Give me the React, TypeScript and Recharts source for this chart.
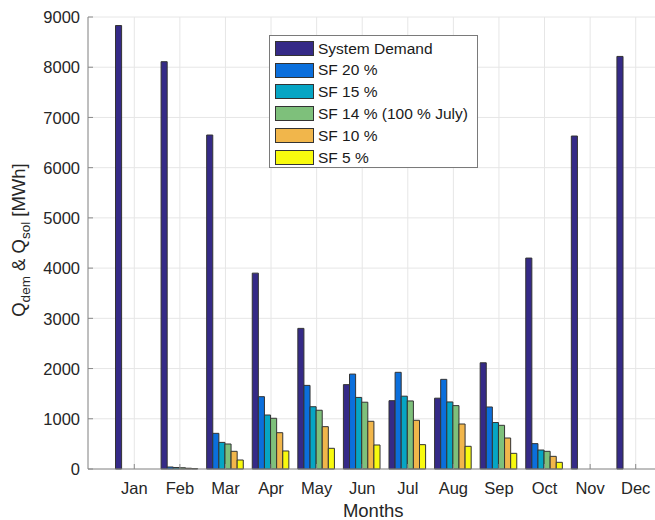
import React from 'react';
import { BarChart, Bar, XAxis, YAxis, CartesianGrid, Legend, Label } from 'recharts';

const months = ['Jan', 'Feb', 'Mar', 'Apr', 'May', 'Jun', 'Jul', 'Aug', 'Sep', 'Oct', 'Nov', 'Dec'];
const systemDemand = [8830, 8110, 6650, 3900, 2800, 1680, 1360, 1410, 2115, 4200, 6630, 8215];
const sf20 = [0, 40, 710, 1440, 1665, 1890, 1925, 1785, 1235, 505, 0, 0];
const sf15 = [0, 30, 530, 1075, 1240, 1425, 1450, 1335, 925, 378, 0, 0];
const sf14 = [0, 25, 498, 1010, 1170, 1330, 1355, 1262, 870, 352, 0, 0];
const sf10 = [0, 15, 352, 723, 843, 950, 970, 896, 617, 252, 0, 0];
const sf5 = [0, 8, 179, 359, 412, 478, 485, 452, 312, 133, 0, 0];
const yTicks = [0, 1000, 2000, 3000, 4000, 5000, 6000, 7000, 8000, 9000];

const seriesNames = ['System Demand', 'SF 20 %', 'SF 15 %', 'SF 14 % (100 % July)', 'SF 10 %', 'SF 5 %'];
const seriesColors = ['#352a87', '#0b6fdc', '#06a5c4', '#7ec07b', '#f1b64b', '#f8fa0e'];
const seriesValues = [systemDemand, sf20, sf15, sf14, sf10, sf5];
const seriesKeys = ['s0', 's1', 's2', 's3', 's4', 's5'];

const data = months.map((m, i) => {
  const row: Record<string, any> = { month: m };
  seriesValues.forEach((vals, k) => {
    row[seriesKeys[k]] = vals[i];
  });
  return row;
});

const FONT = '"Liberation Sans", Arial, Helvetica, sans-serif';
const TEXT = '#262626';
const AXIS = '#8a8a8a';
const TICK_FS = 16.5;

const XTick = (props: any) => {
  const { x, y, payload } = props;
  return (
    <g>
      <line x1={x} x2={x} y1={y - 13} y2={y - 18} stroke={AXIS} strokeWidth={1} />
      <text x={x} y={y} dy="0.71em" textAnchor="middle" fontSize={TICK_FS} fontFamily={FONT} fill={TEXT}>
        {payload.value}
      </text>
    </g>
  );
};

const YTick = (props: any) => {
  const { x, y, payload } = props;
  return (
    <g>
      <line x1={x + 8} x2={x + 13} y1={y} y2={y} stroke={AXIS} strokeWidth={1} />
      <text x={x} y={y} dy="0.38em" textAnchor="end" fontSize={TICK_FS} fontFamily={FONT} fill={TEXT}>
        {payload.value}
      </text>
    </g>
  );
};

const TopTick = (props: any) => {
  const { x, y } = props;
  return <line x1={x} x2={x} y1={y} y2={y + 5} stroke={AXIS} strokeWidth={1} />;
};

const RightTick = (props: any) => {
  const { x, y } = props;
  return <line x1={x - 5} x2={x} y1={y} y2={y} stroke={AXIS} strokeWidth={1} />;
};

const MonthsLabel = (props: any) => {
  const vb = props.viewBox || { x: 80, y: 461, width: 570, height: 30 };
  return (
    <text x={vb.x + vb.width / 2} y={vb.y + 47.5} textAnchor="middle" fontSize={18.5} fontFamily={FONT} fill={TEXT}>
      Months
    </text>
  );
};

const YLabel = (props: any) => {
  const vb = props.viewBox || { x: 0, y: 9, width: 80, height: 452 };
  const cx = vb.x + 17;
  const cy = vb.y + vb.height / 2 - 3;
  return (
    <text
      x={cx}
      y={cy}
      transform={`rotate(-90 ${cx} ${cy})`}
      textAnchor="middle"
      fontSize={18.5}
      fontFamily={FONT}
      fill={TEXT}
    >
      <tspan>Q</tspan>
      <tspan dy={5} fontSize={13.5}>dem</tspan>
      <tspan dy={-5}>{' & Q'}</tspan>
      <tspan dy={5} fontSize={13.5}>sol</tspan>
      <tspan dy={-5}>{' [MWh]'}</tspan>
    </text>
  );
};

const LegendBox = () => (
  <div
    style={{
      boxSizing: 'border-box',
      width: 209,
      height: 133,
      border: '1px solid #7a7a7a',
      background: '#ffffff',
      padding: '1.5px 0 0 5px',
      fontFamily: FONT,
    }}
  >
    {seriesNames.map((name, i) => (
      <div key={name} style={{ height: 21.8, display: 'flex', alignItems: 'center' }}>
        <div
          style={{
            boxSizing: 'border-box',
            width: 39,
            height: 15,
            background: seriesColors[i],
            border: '1px solid #333333',
            marginRight: 4,
            flex: 'none',
          }}
        />
        <span style={{ fontSize: 15.5, lineHeight: 1, color: '#1a1a1a', whiteSpace: 'nowrap' }}>{name}</span>
      </div>
    ))}
  </div>
);

export default function App() {
  return (
    <div style={{ position: 'absolute', left: 8, top: 8, width: 647, height: 512, overflow: 'hidden' }}>
      <BarChart
        width={652}
        height={512}
        data={data}
        margin={{ top: 9, right: 1.5, bottom: 21, left: 0 }}
        barGap={0}
        barSize={6.1}
      >
        <CartesianGrid stroke="#e6e6e6" strokeWidth={1} />
        {seriesKeys.map((k, i) => (
          <Bar
            key={k}
            dataKey={k}
            name={seriesNames[i]}
            fill={seriesColors[i]}
            stroke="#333333"
            strokeWidth={1}
            isAnimationActive={false}
          />
        ))}
        <XAxis
          dataKey="month"
          height={30}
          interval={0}
          padding={{ left: 23.5, right: 0 }}
          tickSize={0}
          tickMargin={13}
          tickLine={false}
          axisLine={{ stroke: AXIS }}
          tick={<XTick />}
        >
          <Label content={MonthsLabel} />
        </XAxis>
        <XAxis
          xAxisId="top"
          dataKey="month"
          orientation="top"
          height={0}
          interval={0}
          padding={{ left: 23.5, right: 0 }}
          tickSize={0}
          tickMargin={0}
          tickLine={false}
          axisLine={{ stroke: AXIS }}
          tick={<TopTick />}
        />
        <YAxis
          width={80}
          domain={[0, 9000]}
          ticks={yTicks}
          interval={0}
          tickSize={0}
          tickMargin={8}
          tickLine={false}
          axisLine={{ stroke: AXIS }}
          tick={<YTick />}
        >
          <Label content={YLabel} />
        </YAxis>
        <YAxis
          yAxisId="r"
          orientation="right"
          width={0}
          domain={[0, 9000]}
          ticks={yTicks}
          interval={0}
          tickSize={0}
          tickMargin={0}
          tickLine={false}
          axisLine={{ stroke: AXIS }}
          tick={<RightTick />}
        />
        <Legend
          layout="vertical"
          align="center"
          verticalAlign="middle"
          content={<LegendBox />}
          wrapperStyle={{ left: 261, top: 27, width: 209, height: 133 }}
        />
      </BarChart>
    </div>
  );
}
